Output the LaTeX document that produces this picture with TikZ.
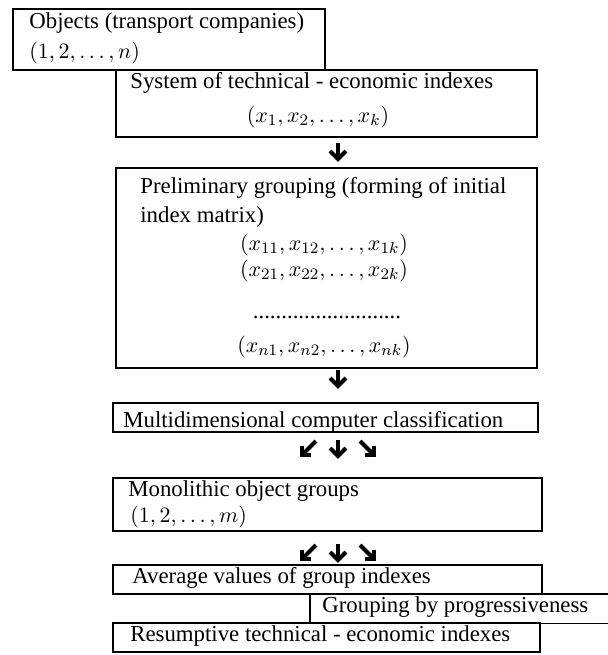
\documentclass[tikz,border=0pt]{standalone}
\usepackage{fontspec}
\setmainfont{Liberation Serif}
\usetikzlibrary{fit,calc}
\begin{document}
\begin{tikzpicture}[x=0.5pt,y=-0.5pt,
  boxst/.style={draw, line width=0.9pt, inner sep=0pt},
  openbox/.style={inner sep=0pt},
  txt/.style={anchor=base west, inner sep=0pt, font=\fontsize{11.4}{13}\selectfont},
  ctxt/.style={anchor=base, inner sep=0pt, font=\fontsize{11.4}{13}\selectfont},
  glyph/.style={line width=2pt, miter limit=4}]
\useasboundingbox (0,0) rectangle (608,655);
% boxes
\node[boxst, fit={(13,9) (325,70)}] (b1) {};
\node[boxst, fit={(116,70) (537,137)}] (b2) {};
\node[boxst, fit={(116,168) (537,368)}] (b3) {};
\node[boxst, fit={(113,403) (538,432)}] (b4) {};
\node[boxst, fit={(113,478) (542,531)}] (b5) {};
\node[boxst, fit={(113,565) (542,594)}] (b6) {};
\node[openbox, fit={(310,594) (608,623)}] (b7) {};
\draw[line width=0.9pt] (b7.north east) -- (b7.north west) -- (b7.south west) -- (b7.south east);
\node[boxst, fit={(113,623) (540,652)}] (b8) {};
% texts
\node[txt] (t1a) at (29,28) {Objects (transport companies)};
\node[txt] (t1b) at (29,58) {$\bigl(1, 2, \ldots, n\bigr)$};
\node[txt] (t2a) at (130,88) {System of technical - economic indexes};
\node[ctxt] (t2b) at (318,122) {$\bigl(x_1, x_2, \ldots, x_k\bigr)$};
\node[txt] (t3a) at (140,193) {Preliminary grouping (forming of initial};
\node[txt] (t3b) at (140,222) {index matrix)};
\node[ctxt] (t3c) at (324,250) {$\bigl(x_{11}, x_{12}, \ldots, x_{1k}\bigr)$};
\node[ctxt] (t3d) at (324,276) {$\bigl(x_{21}, x_{22}, \ldots, x_{2k}\bigr)$};
\node[ctxt] (t3e) at (327,318) {..........................};
\node[ctxt] (t3f) at (324,352) {$\bigl(x_{n1}, x_{n2}, \ldots, x_{nk}\bigr)$};
\node[txt] (t4) at (123,427) {Multidimensional computer classification};
\node[txt] (t5a) at (128,496) {Monolithic object groups};
\node[txt] (t5b) at (130,522) {$\bigl(1, 2, \ldots, m\bigr)$};
\node[txt] (t6) at (132,583) {Average values of group indexes};
\node[txt] (t7) at (322,612) {Grouping by progressiveness};
\node[txt] (t8) at (130,641) {Resumptive technical - economic indexes};
% arrow glyphs
\coordinate (a1) at (338,151);
\coordinate (a2) at (338,378);
\coordinate (c1l) at (309,448);
\coordinate (c1d) at (338,448);
\coordinate (c1r) at (367,448);
\coordinate (c2l) at (309,552);
\coordinate (c2d) at (338,552);
\coordinate (c2r) at (367,552);
\foreach \p in {a1,a2,c1d,c2d}{
  \draw[glyph] ($(\p)+(0,-8)$) -- ($(\p)+(0,8)$);
  \draw[glyph] ($(\p)+(-8,0)$) -- ($(\p)+(0,8)$) -- ($(\p)+(8,0)$);
}
\foreach \p in {c1l,c2l}{
  \draw[glyph] ($(\p)+(7,-7)$) -- ($(\p)+(-7,7)$);
  \draw[glyph] ($(\p)+(-7,-2)$) -- ($(\p)+(-7,7)$) -- ($(\p)+(2,7)$);
}
\foreach \p in {c1r,c2r}{
  \draw[glyph] ($(\p)+(-7,-7)$) -- ($(\p)+(7,7)$);
  \draw[glyph] ($(\p)+(7,-2)$) -- ($(\p)+(7,7)$) -- ($(\p)+(-2,7)$);
}
\end{tikzpicture}
\end{document}
